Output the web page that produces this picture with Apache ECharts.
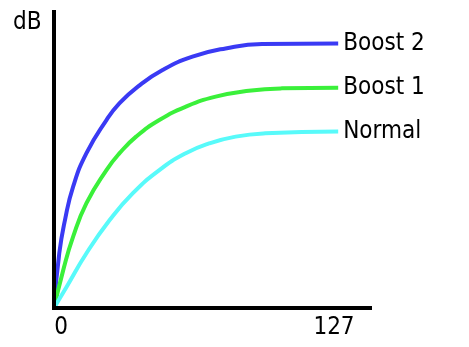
<!DOCTYPE html>
<html><head><meta charset="utf-8">
<script src="https://cdn.jsdelivr.net/npm/echarts@6/dist/echarts.min.js"></script>
<style>html,body{margin:0;padding:0;background:#fff}#c{width:469px;height:347px}</style>
</head><body><div id="c"></div>
<script>
var seriesNames = ['Boost 2', 'Boost 1', 'Normal'];
var xTickLabels = [0, 127];
var yName = 'dB';
var boost2 = [[0,0],[2.45,18.5],[5.1,29.7],[8.9,41.0],[15.1,52.3],[24.4,63.5],[30.5,69.2],[39.0,74.8],[50.5,80.4],[64.4,84.9],[79.8,87.7],[96.8,89.2],[132.2,89.4]];
var boost1 = [[0,0],[4.3,12.8],[8.9,24.1],[15.1,35.4],[24.4,46.6],[30.5,52.3],[38.2,57.9],[49.0,63.5],[61.3,68.0],[75.2,71.4],[90.6,73.4],[106.0,74.2],[132.2,74.4]];
var normal = [[0,0],[5.9,7.2],[15.1,18.5],[25.9,29.7],[36.7,38.8],[49.0,46.6],[61.3,52.3],[72.1,55.6],[84.5,57.9],[98.3,59.0],[132.2,59.6]];
var colors = ['#3a3af4', '#3af03a', '#58fafa'];

var font = '"DejaVu Sans Condensed", "DejaVu Sans", sans-serif';
function mk(name, data, color) {
  return {
    name: name, type: 'line', data: data, smooth: true, showSymbol: false,
    lineStyle: { width: 4, color: color }, itemStyle: { color: color },
    endLabel: { show: true, formatter: '{a}', color: '#000', fontFamily: font, fontSize: 24, distance: 5 },
    z: 2
  };
}
var chart = echarts.init(document.getElementById('c'));
chart.setOption({
  animation: false,
  title: { text: yName, left: 13, top: 11, padding: 0, textStyle: { fontFamily: font, fontSize: 24, fontWeight: 'normal', color: '#000' } },
  grid: { left: 54, top: 12, right: 99, bottom: 39 },
  xAxis: {
    type: 'value', min: 0, max: 147, z: 10,
    splitLine: { show: false }, axisTick: { show: false },
    axisLine: { lineStyle: { color: '#000', width: 4, cap: 'square' } },
    axisLabel: { customValues: xTickLabels, color: '#000', fontFamily: font, fontSize: 24, margin: 8, padding: [0,0,0,14] }
  },
  yAxis: {
    type: 'value', min: 0, max: 100, z: 10,
    splitLine: { show: false }, axisTick: { show: false }, axisLabel: { show: false },
    axisLine: { lineStyle: { color: '#000', width: 4, cap: 'square' } }
  },
  series: [mk(seriesNames[0], boost2, colors[0]), mk(seriesNames[1], boost1, colors[1]), mk(seriesNames[2], normal, colors[2])]
});
</script></body></html>
